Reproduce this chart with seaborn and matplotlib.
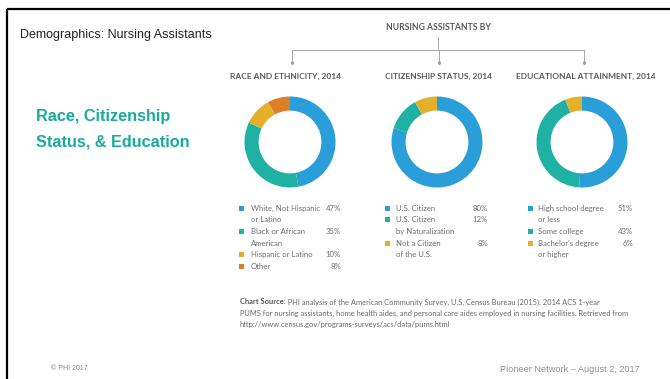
import matplotlib
matplotlib.use("Agg")
import matplotlib.pyplot as plt
from matplotlib.patches import Rectangle
import seaborn as sns

# ---- data ----
race_labels = [["White, Not Hispanic", "or Latino"], ["Black or African", "American"],
               ["Hispanic or Latino"], ["Other"]]
race_values = [47, 35, 10, 8]

citizen_labels = [["U.S. Citizen"], ["U.S. Citizen", "by Naturalization"],
                  ["Not a Citizen", "of the U.S."]]
citizen_values = [80, 12, 8]

edu_labels = [["High school degree", "or less"], ["Some college"],
              ["Bachelor's degree", "or higher"]]
edu_values = [51, 43, 6]

panel_titles = ["RACE AND ETHNICITY, 2014", "CITIZENSHIP STATUS, 2014",
                "EDUCATIONAL ATTAINMENT, 2014"]

palette = ["#2A9ED9", "#1FB1A3", "#E2B02C", "#DD7E2B"]

sns.set_theme(style="white")
plt.rcParams["font.family"] = ["Lato", "DejaVu Sans"]

W, H = 670, 379
fig = plt.figure(figsize=(W / 100, H / 100), dpi=100)
fig.patch.set_facecolor("white")

# full-figure overlay in pixel coordinates for text and rules
bg = fig.add_axes([0, 0, 1, 1])
bg.set_xlim(0, W)
bg.set_ylim(H, 0)
bg.axis("off")

# slide frame
bg.plot([6.5, W], [8.5, 8.5], color="black", lw=1.6, solid_capstyle="butt")
bg.plot([6.5, 6.5], [8.5, H], color="black", lw=1.6, solid_capstyle="butt")

arial = ["Liberation Sans", "DejaVu Sans"]
bg.text(20, 35, "Demographics: Nursing Assistants", fontsize=9.0, color="#222222",
        family=arial, va="center", ha="left")
teal = "#1AAA9C"
bg.text(36, 116, "Race, Citizenship", fontsize=11.7, color=teal, weight="bold",
        family=arial, va="center")
bg.text(36, 142, "Status, & Education", fontsize=11.7, color=teal, weight="bold",
        family=arial, va="center")
bg.text(51, 369, "© PHI 2017", fontsize=5.0, color="#8a8a8a", family=arial, va="center")
bg.text(640, 369, "Pioneer Network – August 2, 2017", fontsize=6.6, color="#8f8f8f",
        family=arial, va="center", ha="right")

# header and connector lines
gray_txt = "#5a5a5a"
centers_x = [290, 437, 582]
title_x = [285.5, 438.5, 585.5]
bg.text(438, 28, "NURSING ASSISTANTS BY", fontsize=6.2, weight="bold", color=gray_txt,
        ha="center", va="center")
line_c = "#9a9a9a"
bg.plot([438, 438], [37, 50], color=line_c, lw=0.6)
bg.plot([centers_x[0] + 2, centers_x[2] + 2], [50, 50], color=line_c, lw=0.6)
for cx in centers_x:
    bg.plot([cx + 2, cx + 2], [50, 63], color=line_c, lw=0.6)
    bg.plot([cx + 2], [63], marker="v", ms=1.6, color=line_c)

for tx, t in zip(title_x, panel_titles):
    bg.text(tx, 76, t, fontsize=6.0, weight="bold", color=gray_txt,
            ha="center", va="center")

# donut charts
cy, r = 142, 45.5
for cx, vals in zip(centers_x, [race_values, citizen_values, edu_values]):
    ax = fig.add_axes([(cx - r) / W, 1 - (cy + r) / H, 2 * r / W, 2 * r / H])
    ax.pie(vals, colors=palette[:len(vals)], startangle=90, counterclock=False,
           radius=1.0, wedgeprops=dict(width=0.31, linewidth=0))
    ax.set_xlim(-1, 1)
    ax.set_ylim(-1, 1)
    ax.set_aspect("equal")
    ax.axis("off")

# legends
leg_cols = [(241, 251, 341), (387, 396, 488), (530, 538, 633)]
step = 11.6
leg_c = "#6e6e6e"
for (mx, tx, vx), labs, vals in zip(leg_cols, [race_labels, citizen_labels, edu_labels],
                                    [race_values, citizen_values, edu_values]):
    y = 208.3
    for i, (lines, v) in enumerate(zip(labs, vals)):
        bg.add_patch(Rectangle((mx - 2.5, y - 2.5), 5, 5, color=palette[i], lw=0))
        bg.text(vx, y, f"{v}%", fontsize=5.6, color=leg_c, ha="right", va="center")
        for ln in lines:
            bg.text(tx, y, ln, fontsize=5.6, color=leg_c, ha="left", va="center")
            y += step

# source note
src_y = [302, 313, 324]
fs = 5.45
lab = bg.text(240, src_y[0], "Chart Source:", fontsize=fs, weight="bold", color="#555555",
              va="center")
bg.annotate(" PHI analysis of the American Community Survey, U.S. Census Bureau (2015). 2014 ACS 1-year",
            xy=(1, 0.5), xycoords=lab, fontsize=fs, color="#6a6a6a", va="center", ha="left")
bg.text(240, src_y[1], "PUMS for nursing assistants, home health aides, and personal care aides employed in nursing facilities. Retrieved from",
        fontsize=fs, color="#6a6a6a", va="center")
bg.text(240, src_y[2], "http://www.census.gov/programs-surveys/acs/data/pums.html",
        fontsize=fs, color="#6a6a6a", va="center")

fig.savefig("out.png", dpi=100, facecolor="white")
